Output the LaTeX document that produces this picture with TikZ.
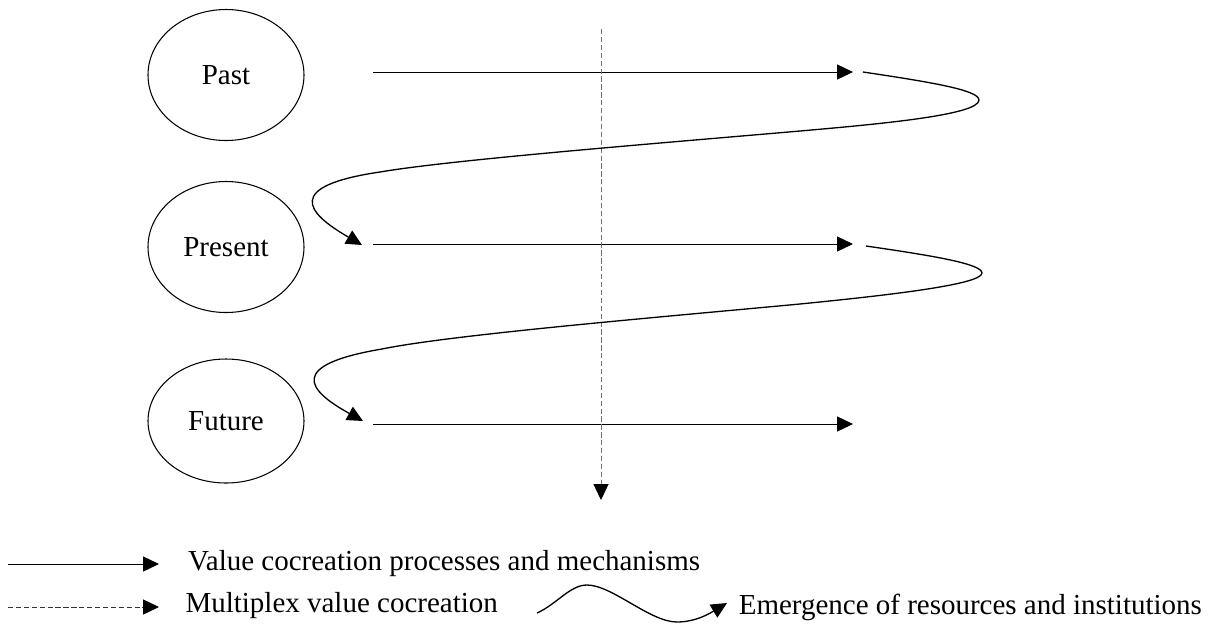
\documentclass[tikz,border=0pt]{standalone}
\usepackage{fontspec}
\setmainfont{Liberation Serif}
\usepackage{tikz}
\usetikzlibrary{arrows.meta,shapes.geometric}

\tikzset{
	tip/.style = {-{Triangle[length=9pt,width=8.5pt,color=black]}},
	flow/.style = {tip, line width=0.5pt},
	multi/.style = {tip, line width=0.5pt, dash pattern=on 3pt off 1.5pt},
	emerge/.style = {tip, line width=0.75pt},
	epoch/.style = {draw, line width=0.6pt, ellipse, inner sep=0pt, font=\fontsize{16.5}{19}\selectfont},
	legend/.style = {text=black, font=\fontsize{16.5}{19}\selectfont}
}

\begin{document}
\begin{tikzpicture} [x=0.02cm, y=-0.02cm]
	\useasboundingbox (0,0) rectangle (1211,630);
	\node [epoch, minimum width=156*0.02cm, minimum height=131*0.02cm] (past) at (226,75) {Past};
	\node [epoch, minimum width=156*0.02cm, minimum height=131*0.02cm] (present) at (226,247) {Present};
	\node [epoch, minimum width=156*0.02cm, minimum height=124*0.02cm] (future) at (226,421) {Future};
	\coordinate (pastA) at (373,72);    \coordinate (pastB) at (853,72);
	\coordinate (presA) at (373,244);   \coordinate (presB) at (853,244);
	\coordinate (futA) at (373,424);    \coordinate (futB) at (853,424);
	\coordinate (top) at (601,29);      \coordinate (bottom) at (601,500);
	\draw [flow] (pastA) -- (pastB);
	\draw [flow] (presA) -- (presB);
	\draw [flow] (futA) -- (futB);
	\draw [multi, black!55] (top) -- (bottom);
	% emergence between the time layers
	\draw [emerge] (863,72) .. controls (930,82) and (979,90) .. (979,100) .. controls (979,115) and (880,124) .. (800,131) .. controls (650,144) and (450,160) .. (380,172) .. controls (285,186) and (305,212) .. (362,245);
	\draw [emerge] (866,246) .. controls (935,256) and (982,264) .. (982,273) .. controls (982,285) and (880,296) .. (800,304) .. controls (650,318) and (450,335) .. (382,349) .. controls (287,365) and (307,390) .. (363,421);
	% legend
	\coordinate (solidA) at (8,564);    \coordinate (solidB) at (159,564);
	\coordinate (dashA) at (8,607);     \coordinate (dashB) at (159,607);
	\draw [flow] (solidA) -- (solidB) node [right=13pt, legend] (solidText) {Value cocreation processes and mechanisms};
	\draw [multi, black!80] (dashA) -- (dashB) node [right=11.5pt, legend, yshift=1pt] (dashText) {Multiplex value cocreation};
	\draw [emerge] (537,613) .. controls (557,604) and (570,585) .. (587,585) .. controls (612,585) and (650,622) .. (677,622) .. controls (697,622) and (712,612) .. (727,603) node [right=3pt, legend, yshift=-2.3pt] (wavyText) {Emergence of resources and institutions};
\end{tikzpicture}
\end{document}
